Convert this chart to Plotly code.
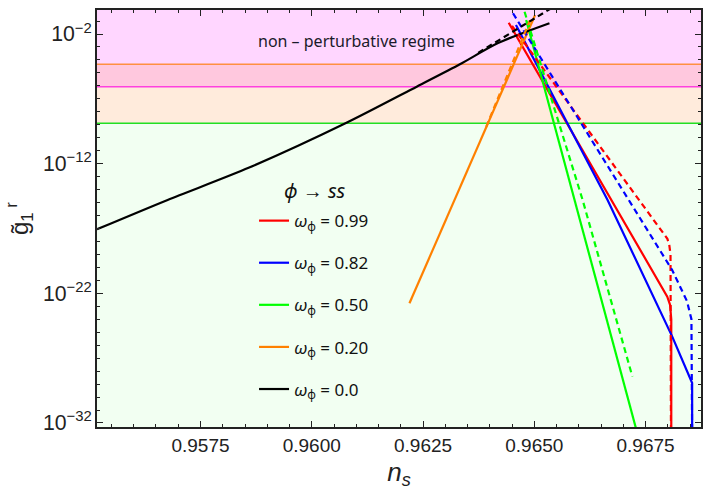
import plotly.graph_objects as go

# ---------------- data ----------------
# solid curves
ns_red = [0.964425, 0.967987, 0.968050, 0.968077, 0.968077]
g_red = [7.4e-2, 5.6e-23, 1.3e-23, 1.0e-24, 1.0e-33]

ns_blue = [0.964588, 0.966646, 0.968099, 0.968546, 0.968546]
g_blue = [4.9e-2, 1.6e-15, 4.6e-26, 1.2e-29, 1.0e-33]

ns_green = [0.964817, 0.965899, 0.967330]
g_green = [1.2e-1, 1.6e-15, 1.0e-33]

ns_orange = [0.962195, 0.965018]
g_orange = [1.7e-23, 2.9e-1]

ns_black = [0.955175, 0.956762, 0.958595, 0.960757, 0.962358,
            0.963328, 0.964185, 0.965340]
g_black = [8.7e-18, 1.6e-15, 5.0e-13, 1.3e-9, 8.7e-7,
           4.6e-5, 2.0e-3, 6.8e-2]

# dashed curves
ns_red_d = [0.964499, 0.967990, 0.968032, 0.968060, 0.968070]
g_red_d = [4.2e-2, 1.6e-18, 5.4e-19, 1.0e-19, 1.0e-33]

ns_blue_d = [0.964521, 0.967131, 0.968097, 0.968430, 0.968530, 0.968546]
g_blue_d = [4.0e-1, 1.6e-15, 6.3e-21, 2.5e-23, 1.0e-24, 1.0e-33]

ns_green_d = [0.964781, 0.966085, 0.967203]
g_green_d = [5.2e-1, 1.6e-15, 3.8e-29]

ns_orange_d = [0.963918, 0.964900]
g_orange_d = [6.8e-10, 1.1e-1]

ns_black_d = [0.963739, 0.965340, 0.965500]
g_black_d = [3.5e-4, 8.0e-1, 1.3]

# horizontal bounds
bound_orange = 4.6e-5
bound_magenta = 8.7e-7
bound_green = 1.3e-9
g_top = 1.0e3
g_bottom = 1.0e-40

labels = ["0.99", "0.82", "0.50", "0.20", "0.0"]
colors = ["#FF0000", "#0000FF", "#00FF00", "#FF8000", "#000000"]

x_range = [0.955175, 0.968745]
y_range_log = [-32.31, -0.149]

# ---------------- figure ----------------
fig = go.Figure()

solid = [(ns_red, g_red), (ns_blue, g_blue), (ns_green, g_green),
         (ns_orange, g_orange), (ns_black, g_black)]
dashed = [(ns_red_d, g_red_d), (ns_blue_d, g_blue_d), (ns_green_d, g_green_d),
          (ns_orange_d, g_orange_d), (ns_black_d, g_black_d)]

for i, ((xs, ys), lab, col) in enumerate(zip(solid, labels, colors)):
    fig.add_trace(go.Scatter(
        x=xs, y=ys, mode="lines",
        line=dict(color=col, width=2.2,
                  shape="spline" if col == "#000000" else "linear",
                  smoothing=0.8),
        name="<i>ω</i><sub>ϕ</sub> = " + lab,
        legendgroup="g%d" % i, showlegend=True))

for i, ((xs, ys), col) in enumerate(zip(dashed, colors)):
    fig.add_trace(go.Scatter(
        x=xs, y=ys, mode="lines",
        line=dict(color=col, width=2.2, dash="6px,4px"),
        legendgroup="g%d" % i, showlegend=False, hoverinfo="skip"))

# background bands
bands = [
    (bound_orange, g_top, "#FFD6FF"),
    (bound_magenta, bound_orange, "#FFC8DE"),
    (bound_green, bound_magenta, "#FFEBDC"),
    (g_bottom, bound_green, "#F2FFF2"),
]
for y0, y1, c in bands:
    fig.add_shape(type="rect", xref="paper", yref="y", x0=0, x1=1,
                  y0=y0, y1=y1, fillcolor=c, line_width=0, layer="below")

for yv, c in [(bound_orange, "#FF9040"), (bound_magenta, "#FF40E0"),
              (bound_green, "#22E022")]:
    fig.add_shape(type="line", xref="paper", yref="y", x0=0, x1=1,
                  y0=yv, y1=yv, line=dict(color=c, width=1.5), layer="below")

fig.add_annotation(x=0.961000, y=-2.55, xref="x", yref="y",
                   text="non – perturbative regime", showarrow=False,
                   font=dict(family="Noto Sans", size=16, color="#1a1a2a"))

# legend heading
fig.add_annotation(x=0.361, y=0.568, xref="paper", yref="paper",
                   text="<i>ϕ</i> → <i>ss</i>", showarrow=False,
                   font=dict(family="Noto Sans", size=20, color="#111"))

ytickfont = dict(family="Liberation Sans", size=17, color="#222222")
xtickfont = dict(family="Liberation Sans", size=19, color="#222222")

fig.update_xaxes(
    range=x_range, tick0=0.9575, dtick=0.0025, tickformat=".4f",
    ticks="inside", ticklen=6, tickwidth=1.2, tickcolor="#222",
    minor=dict(dtick=0.0005, ticklen=3.5, tickwidth=1, tickcolor="#222", ticks="inside"),
    showline=True, linecolor="#222", linewidth=1.6, mirror="ticks",
    showgrid=False, zeroline=False, tickfont=xtickfont,
    title=dict(text="<i>n<sub>s</sub></i>",
               font=dict(family="Liberation Sans", size=26, color="#222"),
               standoff=13))

fig.update_yaxes(
    type="log", range=y_range_log, tick0=-32, dtick=10,
    exponentformat="power",
    ticks="inside", ticklen=6, tickwidth=1.2, tickcolor="#222",
    minor=dict(dtick=1, ticklen=3.5, tickwidth=1, tickcolor="#222", ticks="inside"),
    showline=True, linecolor="#222", linewidth=1.6, mirror="ticks",
    showgrid=False, zeroline=False, tickfont=ytickfont,
    title=dict(text="g̃<sub>1</sub><sup> r</sup>",
               font=dict(family="Liberation Sans", size=24, color="#222"),
               standoff=8))

fig.update_layout(
    width=704, height=490,
    margin=dict(l=97, r=1, t=10, b=63),
    paper_bgcolor="white", plot_bgcolor="#F2FFF2",
    showlegend=True,
    legend=dict(
        x=0.26, y=0.537, xanchor="left", yanchor="top",
        bgcolor="rgba(0,0,0,0)", borderwidth=0,
        font=dict(family="Noto Sans", size=17, color="#111"),
        tracegroupgap=17, itemwidth=30,
    ),
)

fig.write_html("out.html")
